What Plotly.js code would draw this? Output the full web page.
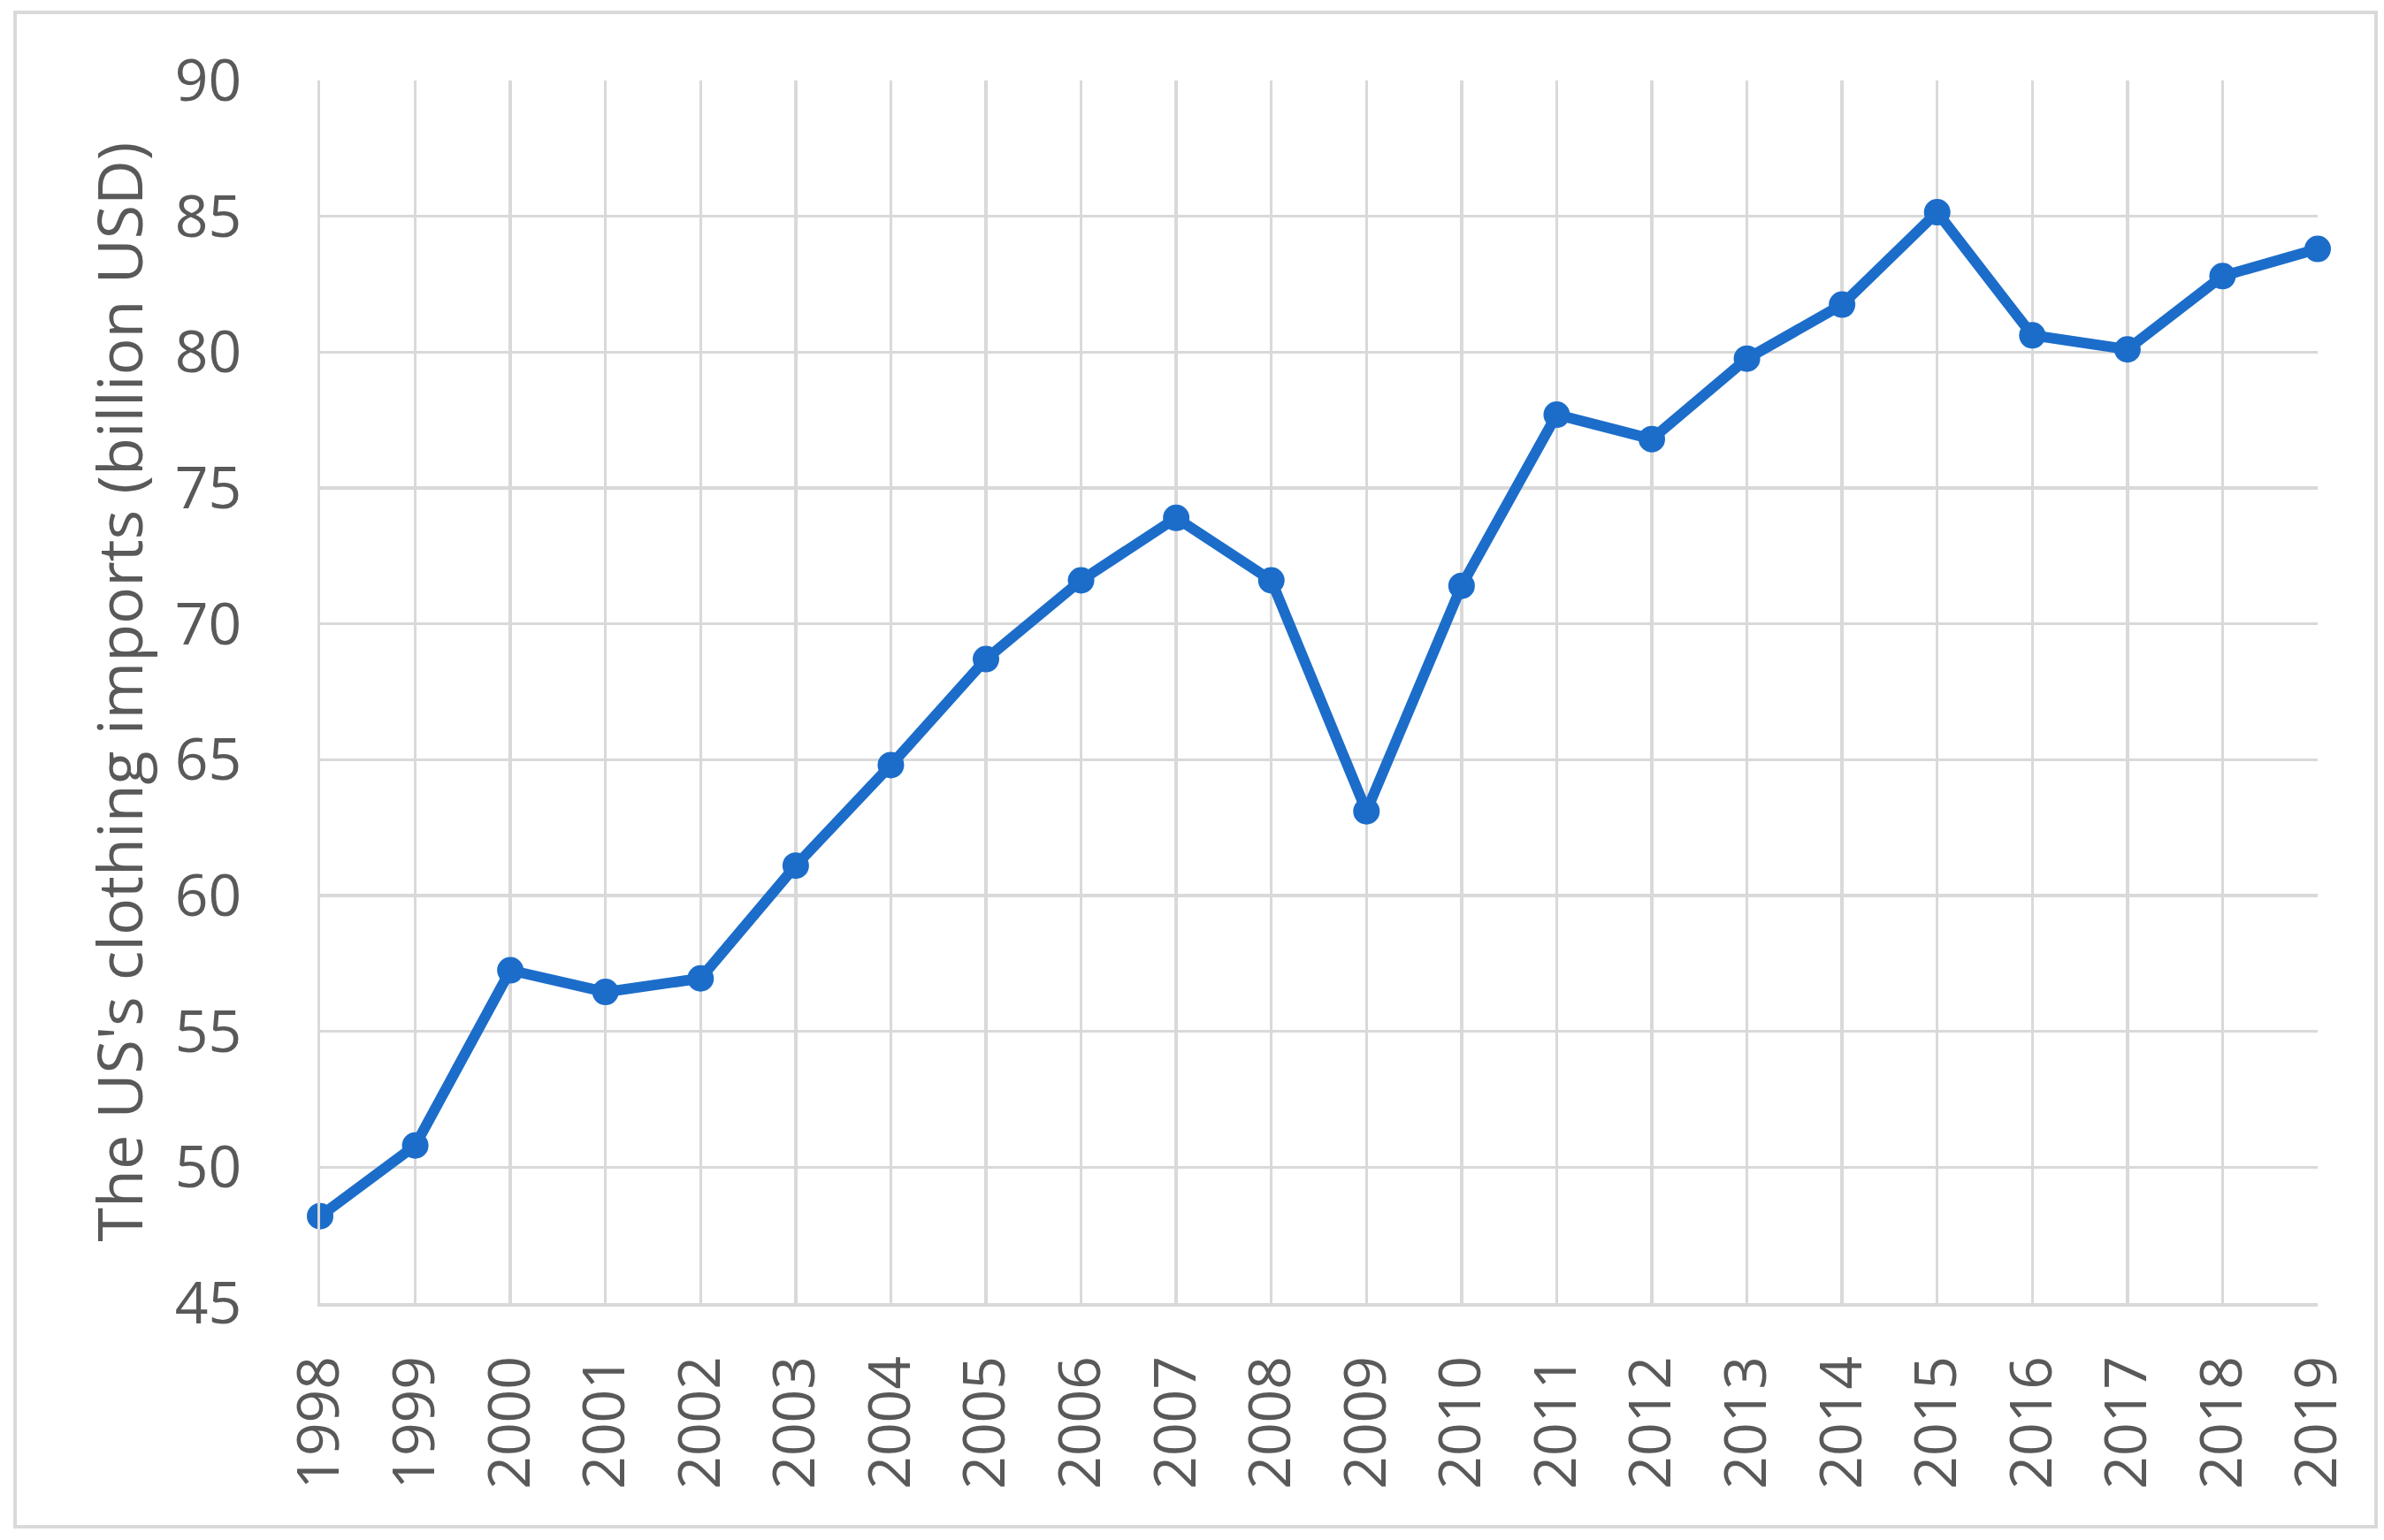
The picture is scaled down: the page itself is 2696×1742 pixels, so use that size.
<!DOCTYPE html>
<html>
<head>
<meta charset="utf-8">
<script src="https://cdn.plot.ly/plotly-3.0.1.min.js"></script>
<style>html,body{margin:0;padding:0;background:#fff;}#chart{width:2696px;height:1742px;}</style>
</head>
<body>
<div id="chart"></div>
<script>
const years = ["1998","1999","2000","2001","2002","2003","2004","2005","2006","2007","2008","2009","2010","2011","2012","2013","2014","2015","2016","2017","2018","2019"];
const imports = [48.2, 50.8, 57.25, 56.45, 56.95, 61.1, 64.8, 68.7, 71.6, 73.9, 71.6, 63.1, 71.4, 77.7, 76.8, 79.76, 81.75, 85.15, 80.62, 80.1, 82.8, 83.8];
const yTitle = "The US's clothing imports (billion USD)";

const fontFam = "'Open Sans', 'Noto Sans', sans-serif";
const textColor = "#595959";
const gridColor = "#d9d9d9";
const lineColor = "#1c6dca";

Plotly.newPlot("chart", [{
  type: "scatter",
  mode: "lines+markers",
  x: years,
  y: imports,
  line: {color: lineColor, width: 12},
  marker: {color: lineColor, size: 30},
  cliponaxis: false,
  hoverinfo: "skip"
}], {
  width: 2696,
  height: 1742,
  margin: {l: 362, r: 75, t: 91, b: 268},
  paper_bgcolor: "#fff",
  plot_bgcolor: "#fff",
  showlegend: false,
  font: {family: fontFam, color: textColor},
  xaxis: {
    type: "category",
    range: [0, years.length - 1],
    showgrid: true,
    gridcolor: gridColor,
    gridwidth: 3.5,
    showline: true,
    linecolor: gridColor,
    linewidth: 3.5,
    zeroline: false,
    ticks: "",
    tickangle: -90,
    tickfont: {size: 66, color: textColor, family: fontFam},
    ticklabelstandoff: 30,
    fixedrange: true
  },
  yaxis: {
    range: [45, 90],
    dtick: 5,
    tick0: 45,
    showgrid: true,
    gridcolor: gridColor,
    gridwidth: 3.5,
    showline: true,
    linecolor: gridColor,
    linewidth: 3.5,
    mirror: false,
    zeroline: false,
    ticks: "",
    tickfont: {size: 66, color: textColor, family: fontFam},
    ticklabelstandoff: 72,
    title: {text: yTitle, font: {size: 70, color: textColor, family: fontFam}, standoff: 14},
    fixedrange: true
  },
  shapes: [{
    type: "rect", xref: "paper", yref: "paper",
    x0: -0.1527, x1: 1.0292, y0: -0.1829, y1: 1.0557,
    line: {color: gridColor, width: 4}, fillcolor: "rgba(0,0,0,0)", layer: "below"
  }]
}, {staticPlot: true});
</script>
</body>
</html>
